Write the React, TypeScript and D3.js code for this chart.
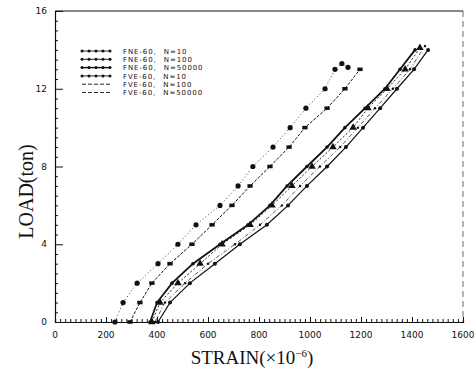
import React, { useEffect, useRef } from "react";
import * as d3 from "d3";

// legend labels
const seriesNames = [
  "FNE-60, N=10",
  "FNE-60, N=100",
  "FNE-60, N=50000",
  "FVE-60, N=10",
  "FVE-60, N=100",
  "FVE-60, N=50000",
];

// strain (x1e-6) read at each load step
const s1Strain = [235, 267, 322, 404, 482, 553, 647, 718, 776, 855, 922, 984, 1059, 1098, 1125, 1149];
const s1Load = [0, 1, 2, 3, 4, 5, 6, 7, 8, 9, 10, 11, 12, 13, 13.3, 13.1];
const s2Strain = [294, 333, 380, 451, 537, 616, 694, 765, 843, 918, 980, 1067, 1137, 1196];
const s2Load = [0, 1, 2, 3, 4, 5, 6, 7, 8, 9, 10, 11, 12, 13];
const s3Strain = [373, 400, 459, 541, 647, 757, 843, 910, 988, 1067, 1137, 1216, 1294, 1353, 1412];
const s3Load = [0, 1, 2, 3, 4, 5, 6, 7, 8, 9, 10, 11, 12, 13, 14];
const s4Strain = [380, 412, 482, 569, 655, 765, 851, 929, 1008, 1090, 1169, 1227, 1302, 1373, 1431];
const s4Load = [0, 1, 2, 3, 4, 5, 6, 7, 8, 9, 10, 11, 12, 13, 14.1];
const s5Strain = [392, 431, 510, 600, 706, 804, 890, 961, 1039, 1118, 1188, 1255, 1325, 1392, 1451];
const s5Load = [0, 1, 2, 3, 4, 5, 6, 7, 8, 9, 10, 11, 12, 13, 14.2];
const s6Strain = [404, 451, 529, 627, 725, 831, 914, 988, 1067, 1141, 1208, 1275, 1341, 1408, 1463];
const s6Load = [0, 1, 2, 3, 4, 5, 6, 7, 8, 9, 10, 11, 12, 13, 14];

const xTicks = [0, 200, 400, 600, 800, 1000, 1200, 1400, 1600];
const yTicks = [0, 4, 8, 12, 16];

const App = () => {
  const svgRef = useRef<SVGSVGElement>(null);

  useEffect(() => {
    const W = 474;
    const H = 372;
    const margin = { top: 11, right: 11, bottom: 50, left: 55 };
    const width = W - margin.left - margin.right;
    const height = H - margin.top - margin.bottom;
    const ink = "#111";

    d3.select(svgRef.current).selectAll("*").remove();
    const root = d3.select(svgRef.current).attr("width", W).attr("height", H);
    root.append("rect").attr("width", W).attr("height", H).attr("fill", "white");

    const svg = root.append("g").attr("transform", `translate(${margin.left},${margin.top})`);

    const x = d3.scaleLinear().domain([0, 1600]).range([0, width]);
    const y = d3.scaleLinear().domain([0, 16]).range([height, 0]);

    // frame: top solid, right faint dashed
    svg.append("line").attr("x1", 0).attr("x2", width).attr("y1", 0).attr("y2", 0)
      .attr("stroke", ink).attr("stroke-width", 1);
    svg.append("line").attr("x1", width).attr("x2", width).attr("y1", 0).attr("y2", height)
      .attr("stroke", "#444").attr("stroke-width", 0.8).attr("stroke-dasharray", "6,4");

    // x axis with inward ticks
    const xAxis = svg.append("g").attr("transform", `translate(0,${height})`)
      .call(d3.axisBottom(x).tickValues(d3.range(0, 1601, 20)).tickSize(-3).tickFormat(() => ""));
    xAxis.select(".domain").attr("stroke", ink).attr("stroke-width", 1.2);
    xAxis.selectAll(".tick line").attr("stroke", ink)
      .attr("y2", (d: any) => (d % 200 === 0 ? -5 : -3));
    svg.append("g").selectAll("text").data(xTicks).enter().append("text")
      .attr("x", (d) => x(d)).attr("y", height + 16)
      .attr("text-anchor", "middle")
      .style("font-family", "DejaVu Sans, sans-serif").style("font-size", "9px").attr("fill", ink)
      .text((d) => d);

    // y axis with inward ticks
    const yAxis = svg.append("g")
      .call(d3.axisLeft(y).tickValues(d3.range(0, 16.01, 0.5)).tickSize(-3).tickFormat(() => ""));
    yAxis.select(".domain").attr("stroke", ink).attr("stroke-width", 1.2);
    yAxis.selectAll(".tick line").attr("stroke", ink)
      .attr("x2", (d: any) => (d % 4 === 0 ? 8 : 3));
    svg.append("g").selectAll("text").data(yTicks).enter().append("text")
      .attr("x", -8).attr("y", (d) => y(d) + 3)
      .attr("text-anchor", "end")
      .style("font-family", "DejaVu Sans, sans-serif").style("font-size", "9px").attr("fill", ink)
      .text((d) => d);

    // axis titles
    root.append("text")
      .attr("transform", `translate(33,${margin.top + height / 2 + 25}) rotate(-90)`)
      .attr("text-anchor", "middle")
      .style("font-family", "Liberation Serif, serif").style("font-size", "20px").attr("fill", ink)
      .text("LOAD(ton)");
    const xt = root.append("text")
      .attr("x", 252).attr("y", 364)
      .attr("text-anchor", "middle")
      .style("font-family", "Liberation Serif, serif").style("font-size", "19px").attr("fill", ink);
    xt.append("tspan").text("STRAIN(\u00d710");
    xt.append("tspan").attr("dy", -7).style("font-size", "11px").text("\u22126");
    xt.append("tspan").attr("dy", 7).text(")");

    const series = [
      { name: seriesNames[0], xs: s1Strain, ys: s1Load, w: 0.8, dash: "1,2.5", mark: "circle", r: 2.6 },
      { name: seriesNames[1], xs: s2Strain, ys: s2Load, w: 1, dash: "3,1.5", mark: "square", r: 2.2 },
      { name: seriesNames[2], xs: s3Strain, ys: s3Load, w: 1.8, dash: null, mark: "circle", r: 1.8 },
      { name: seriesNames[3], xs: s4Strain, ys: s4Load, w: 0.9, dash: "2,2", mark: "triangle", r: 2.2 },
      { name: seriesNames[4], xs: s5Strain, ys: s5Load, w: 0.7, dash: "4,2,1,2", mark: "dot", r: 1.2 },
      { name: seriesNames[5], xs: s6Strain, ys: s6Load, w: 1.2, dash: null, mark: "circle", r: 2 },
    ];

    const line = d3.line<[number, number]>()
      .curve(d3.curveLinear)
      .x((d) => x(d[0]))
      .y((d) => y(d[1]));

    const drawMark = (g: any, cx: number, cy: number, kind: string, r: number) => {
      if (kind === "square") {
        g.append("rect").attr("x", cx - r * 1.2).attr("y", cy - r * 0.8)
          .attr("width", r * 2.4).attr("height", r * 1.6).attr("fill", ink);
      } else if (kind === "triangle") {
        g.append("path")
          .attr("d", d3.symbol().type(d3.symbolTriangle).size(r * r * 5)())
          .attr("transform", `translate(${cx},${cy})`).attr("fill", ink);
      } else {
        g.append("circle").attr("cx", cx).attr("cy", cy).attr("r", r).attr("fill", ink);
      }
    };

    series.forEach((s) => {
      const pts: [number, number][] = s.xs.map((v, i) => [v, s.ys[i]]);
      svg.append("path").datum(pts).attr("d", line)
        .attr("fill", "none").attr("stroke", ink).attr("stroke-width", s.w)
        .attr("stroke-dasharray", s.dash);
      const g = svg.append("g");
      pts.forEach((p) => drawMark(g, x(p[0]), y(p[1]), s.mark, s.r));
    });

    // legend
    const lg = root.append("g").attr("transform", "translate(82,51)");
    series.forEach((s, i) => {
      const gy = i * 8.3;
      lg.append("line").attr("x1", 0).attr("x2", 28).attr("y1", gy).attr("y2", gy)
        .attr("stroke", ink).attr("stroke-width", i === 2 ? 1.4 : 0.9)
        .attr("stroke-dasharray", i >= 4 ? "4,2" : null);
      if (i < 4) {
        [0, 7, 14, 21, 28].forEach((px) => {
          lg.append("circle").attr("cx", px).attr("cy", gy).attr("r", 1.5).attr("fill", ink);
        });
      }
      lg.append("text").attr("x", 41).attr("y", gy + 2.6)
        .style("font-family", "DejaVu Sans, sans-serif").style("font-size", "7px")
        .style("letter-spacing", "0.9px").style("word-spacing", "4px").attr("fill", ink)
        .text(s.name);
    });
  }, []);

  return <svg ref={svgRef} style={{ position: "absolute", left: 0, top: 0 }} />;
};

export default App;
